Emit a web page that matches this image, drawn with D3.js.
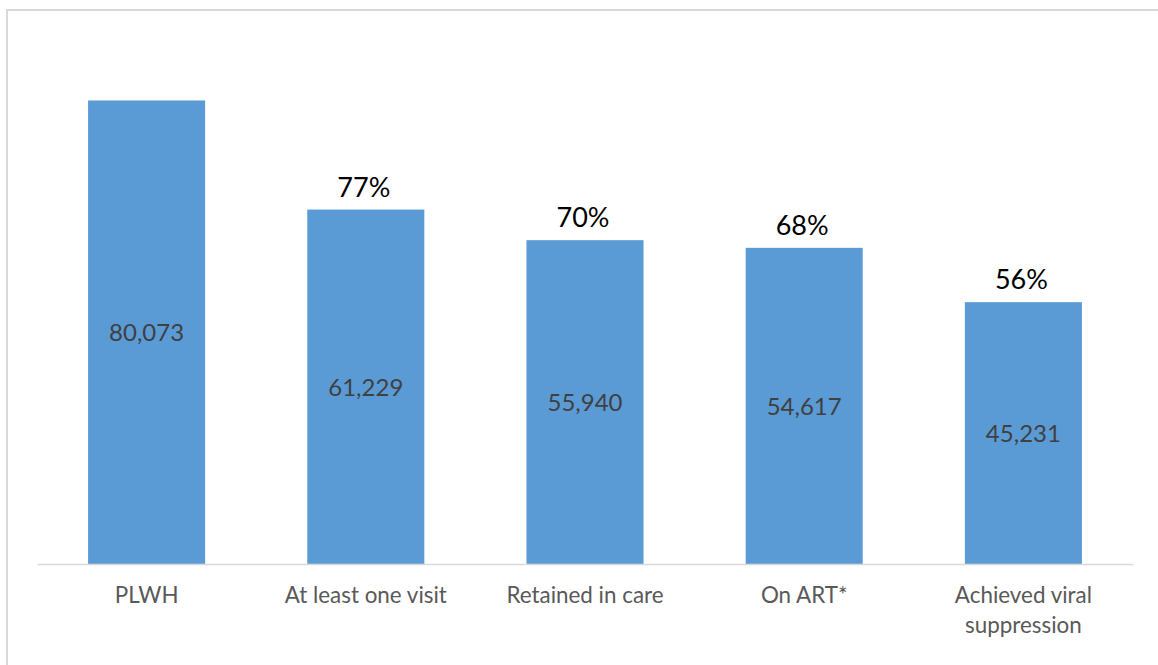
<!DOCTYPE html>
<html>
<head>
<meta charset="utf-8">
<script src="https://cdn.jsdelivr.net/npm/d3@7/dist/d3.min.js"></script>
<style>
  html, body { margin: 0; padding: 0; background: #fff; overflow: hidden; }
  svg { display: block; }
</style>
</head>
<body>
<script>
const categories = ["PLWH", "At least one visit", "Retained in care", "On ART*", "Achieved viral suppression"];
const values = [80073, 61229, 55940, 54617, 45231];
const percentLabels = ["", "77%", "70%", "68%", "56%"];
const categoryLines = [["PLWH"], ["At least one visit"], ["Retained in care"], ["On ART*"], ["Achieved viral", "suppression"]];

const W = 1158, H = 665;
const font = "Lato, 'Open Sans', sans-serif";
const svg = d3.select("body").append("svg").attr("width", W).attr("height", H);

// outer chart border (extends past right/bottom edge)
svg.append("rect")
  .attr("x", 7).attr("y", 10).attr("width", W + 20).attr("height", H + 20)
  .attr("fill", "#fff").attr("stroke", "#d9d9d9").attr("stroke-width", 2);

const plotLeft = 37, plotRight = 1133, baseY = 564;
const x = d3.scaleBand().domain(categories).range([plotLeft, plotRight]).padding(0);
const y = d3.scaleLinear().domain([0, 90000]).range([baseY, 43]);
const barW = x.bandwidth() * 0.534;

const g = svg.append("g");

g.selectAll("rect.bar").data(values).enter().append("rect")
  .attr("class", "bar")
  .attr("x", (d, i) => x(categories[i]) + (x.bandwidth() - barW) / 2)
  .attr("y", d => y(d))
  .attr("width", barW)
  .attr("height", d => baseY - y(d))
  .attr("fill", "#5b9bd5");

// baseline axis
const axis = d3.axisBottom(x).tickSize(0).tickFormat("");
const ag = svg.append("g").attr("transform", `translate(0,${baseY})`).call(axis);
ag.select(".domain").attr("stroke", "#d9d9d9").attr("stroke-width", 1.5);

// category labels
categories.forEach((c, i) => {
  const t = svg.append("text")
    .attr("x", x(c) + x.bandwidth() / 2)
    .attr("y", 603)
    .attr("text-anchor", "middle")
    .attr("font-family", font)
    .attr("font-size", 22.4)
    .attr("fill", "#595959");
  categoryLines[i].forEach((ln, j) => {
    t.append("tspan").attr("x", x(c) + x.bandwidth() / 2).attr("dy", j === 0 ? 0 : 30).text(ln);
  });
});

// value labels inside bars
g.selectAll("text.val").data(values).enter().append("text")
  .attr("class", "val")
  .attr("x", (d, i) => x(categories[i]) + x.bandwidth() / 2)
  .attr("y", d => (y(d) + baseY) / 2 + 9)
  .attr("text-anchor", "middle")
  .attr("font-family", font)
  .attr("font-size", 24)
  .attr("fill", "#404040")
  .text(d => d3.format(",")(d));

// percent labels above bars
g.selectAll("text.pct").data(values).enter().append("text")
  .attr("class", "pct")
  .attr("x", (d, i) => x(categories[i]) + x.bandwidth() / 2 - 2)
  .attr("y", d => y(d) - 13)
  .attr("text-anchor", "middle")
  .attr("font-family", font)
  .attr("font-size", 27)
  .attr("fill", "#000")
  .text((d, i) => percentLabels[i]);
</script>
</body>
</html>
